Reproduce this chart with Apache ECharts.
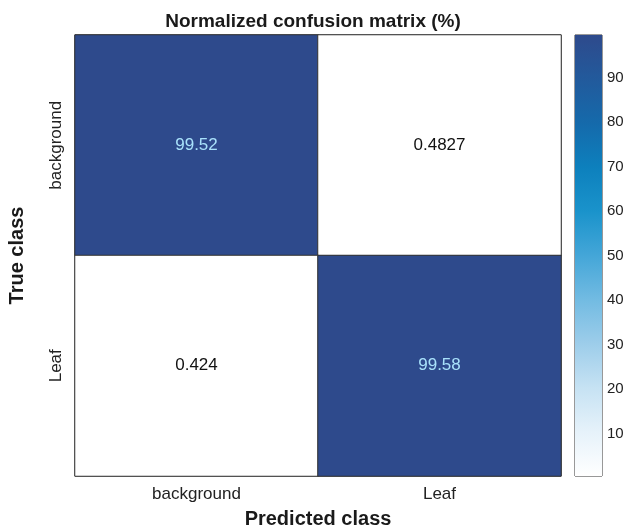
<!DOCTYPE html>
<html>
<head>
<meta charset="utf-8">
<script src="https://cdn.jsdelivr.net/npm/echarts@6/dist/echarts.min.js"></script>
<style>
  html, body { margin: 0; padding: 0; background: #ffffff; }
  #chart { width: 626px; height: 531px; }
</style>
</head>
<body>
<div id="chart"></div>
<script>
// Confusion matrix contents (row = true class, column = predicted class)
const predictedClasses = ['background', 'Leaf'];
const trueClasses = ['background', 'Leaf'];
const rowBackground = ['99.52', '0.4827'];
const rowLeaf = ['0.424', '99.58'];
const colorbarTicks = [10, 20, 30, 40, 50, 60, 70, 80, 90];
const colorbarMin = 0.424;
const colorbarMax = 99.58;

// Blue colour ramp, low -> high
const ramp = ['#ffffff', '#e6f2fa', '#c6e2f3', '#9dcdea', '#72bbe2', '#44a6d8',
              '#1a93cb', '#0d80bd', '#156aab', '#225a9c', '#2e4a8c'];

const FONT = '"Liberation Sans", Arial, Helvetica, sans-serif';

const rows = [rowBackground, rowLeaf];
const cells = [];
rows.forEach((row, r) => {
  row.forEach((txt, c) => {
    const v = parseFloat(txt);
    cells.push({
      value: [c, r, v],
      text: txt,
      label: { color: v > 50 ? '#a9e2fb' : '#111111' }
    });
  });
});

const chart = echarts.init(document.getElementById('chart'), null, { renderer: 'canvas' });

chart.setOption({
  backgroundColor: '#ffffff',
  animation: false,
  title: {
    text: 'Normalized confusion matrix (%)',
    left: 308, top: 7, textAlign: 'center',
    textStyle: { fontFamily: FONT, fontSize: 19, fontWeight: 'bold', color: '#1a1a1a' }
  },
  grid: [
    { left: 75, top: 35, width: 486, height: 441, outerBoundsMode: 'none', containLabel: false,
      show: true, borderColor: '#333333', borderWidth: 1, backgroundColor: 'transparent' },
    { left: 575, top: 35, width: 27, height: 441, outerBoundsMode: 'none', containLabel: false,
      show: true, borderColor: '#333333', borderWidth: 1, backgroundColor: 'transparent' }
  ],
  xAxis: [
    {
      type: 'category', gridIndex: 0, data: predictedClasses,
      name: 'Predicted class', nameLocation: 'middle', nameGap: 33,
      nameTextStyle: { fontFamily: FONT, fontSize: 20, fontWeight: 'bold', color: '#1a1a1a' },
      axisLine: { show: false }, axisTick: { show: false }, splitLine: { show: false },
      axisLabel: { fontFamily: FONT, fontSize: 17, color: '#222222', margin: 10 }
    },
    {
      type: 'category', gridIndex: 1, data: ['c'], show: false
    }
  ],
  yAxis: [
    {
      type: 'category', gridIndex: 0, data: trueClasses, inverse: true,
      name: 'True class', nameLocation: 'middle', nameGap: 48, nameRotate: 90,
      nameTextStyle: { fontFamily: FONT, fontSize: 20, fontWeight: 'bold', color: '#1a1a1a' },
      axisLine: { show: false }, axisTick: { show: false }, splitLine: { show: false },
      axisLabel: { fontFamily: FONT, fontSize: 17, color: '#222222', rotate: 90, margin: 10 }
    },
    {
      type: 'value', gridIndex: 1, position: 'right',
      min: colorbarMin, max: colorbarMax,
      axisLine: { show: false },
      splitLine: { show: false },
      axisTick: { show: true, inside: true, length: 4, customValues: colorbarTicks, lineStyle: { color: '#333333' } },
      axisLabel: { show: true, customValues: colorbarTicks, fontFamily: FONT, fontSize: 15, color: '#222222', margin: 5 }
    }
  ],
  visualMap: {
    show: false, type: 'continuous', seriesIndex: 0,
    min: colorbarMin, max: colorbarMax, dimension: 2,
    inRange: { color: ramp }
  },
  series: [
    {
      type: 'heatmap', xAxisIndex: 0, yAxisIndex: 0,
      data: cells,
      itemStyle: { borderColor: '#333333', borderWidth: 1 },
      label: {
        show: true, fontFamily: FONT, fontSize: 17,
        formatter: p => p.data.text
      },
      emphasis: { disabled: true }
    },
    {
      type: 'custom', xAxisIndex: 1, yAxisIndex: 1,
      data: [[0, colorbarMin, colorbarMax]],
      silent: true,
      z: 1,
      renderItem: function (params, api) {
        const lo = api.coord([api.value(0), api.value(1)]);
        const hi = api.coord([api.value(0), api.value(2)]);
        const w = api.size([1, 0])[0];
        const stops = ramp.map((c, i) => ({ offset: i / (ramp.length - 1), color: c }));
        return {
          type: 'rect',
          shape: { x: lo[0] - w / 2, y: hi[1], width: w, height: lo[1] - hi[1] },
          style: { fill: new echarts.graphic.LinearGradient(0, 1, 0, 0, stops) }
        };
      }
    }
  ]
});
</script>
</body>
</html>
